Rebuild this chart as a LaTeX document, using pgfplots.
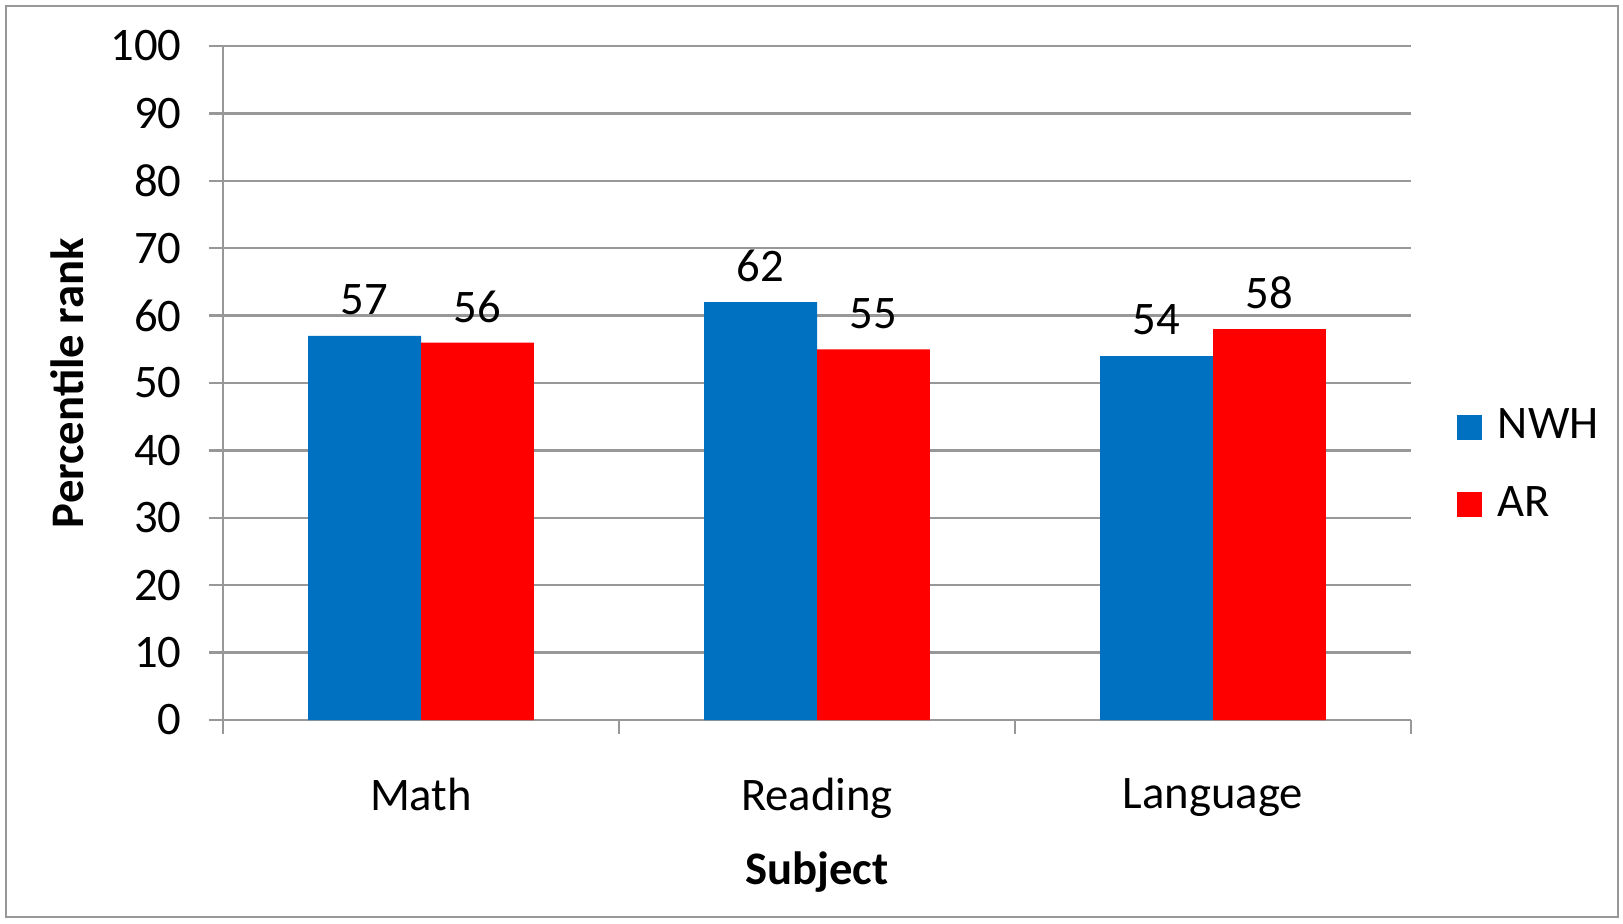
\documentclass[border=0pt]{standalone}
\usepackage{pgfplots}
\pgfplotsset{compat=1.18}
\usepackage{fontspec}
\setmainfont{Carlito}
\definecolor{nwh}{HTML}{0070C0}
\definecolor{ar}{HTML}{FF0000}
\definecolor{gridc}{HTML}{989898}
\begin{document}
\begin{tikzpicture}
\fontsize{14}{16.8}\selectfont
\path (0,0) rectangle (486.9pt,276.9pt);
\draw[gridc, line width=0.75pt] (1.8pt,1.8pt) rectangle (485.4pt,275.1pt);
\begin{axis}[
  at={(66.9pt,60.9pt)}, anchor=south west,
  scale only axis, width=356.4pt, height=202.2pt,
  xmin=-0.5, xmax=2.5, ymin=0, ymax=100,
  ytick={0,10,...,100},
  xtick={-0.5,0.5,1.5,2.5}, xticklabels={},
  extra x ticks={0,1,2},
  extra x tick labels={Math,Reading,Language},
  extra x tick style={major tick length=0pt, grid=none},
  axis x line*=bottom, axis y line*=left,
  axis line style={gridc, line width=0.75pt, -},
  ymajorgrids, grid style={gridc, line width=0.75pt},
  tick style={gridc, line width=0.75pt},
  tick align=outside, major tick length=4.2pt,
  /pgf/number format/assume math mode=true,
  font=\fontsize{14}{16.8}\selectfont,
  ticklabel style={font=\fontsize{14}{16.8}\selectfont, text=black},
  xticklabel style={yshift=-12.6pt},
  yticklabel style={xshift=-3.4pt},
  label style={font=\fontsize{14}{16.8}\selectfont\bfseries},
  xlabel={Subject}, ylabel={Percentile rank},
  xlabel style={at={(axis description cs:0.5,-0.2255)}, anchor=center},
  ylabel style={at={(axis description cs:-0.1313,0.5)}, anchor=center},
  ybar, bar width=0.285,
  nodes near coords,
  every node near coord/.append style={anchor=center, yshift=10.8pt, text=black, font=\fontsize{14}{16.8}\selectfont},
  legend style={draw=none, fill=none, at={(1.0387,0.3769)}, anchor=west,
    inner sep=0pt, outer sep=0pt, nodes={inner sep=0pt}, column sep=4.8pt, row sep=12.3pt,
    font=\fontsize{14}{16.8}\selectfont},
  legend cell align=left,
  legend image code/.code={\fill[#1] (0pt,-3.75pt) rectangle (7.5pt,3.75pt);},
]
\addplot[draw=none, fill=nwh, bar shift=-0.1425] coordinates {(0,57) (1,62) (2,54)};
\addplot[draw=none, fill=ar, bar shift=0.1425] coordinates {(0,56) (1,55) (2,58)};
\legend{NWH,AR}
\end{axis}
\end{tikzpicture}
\end{document}
